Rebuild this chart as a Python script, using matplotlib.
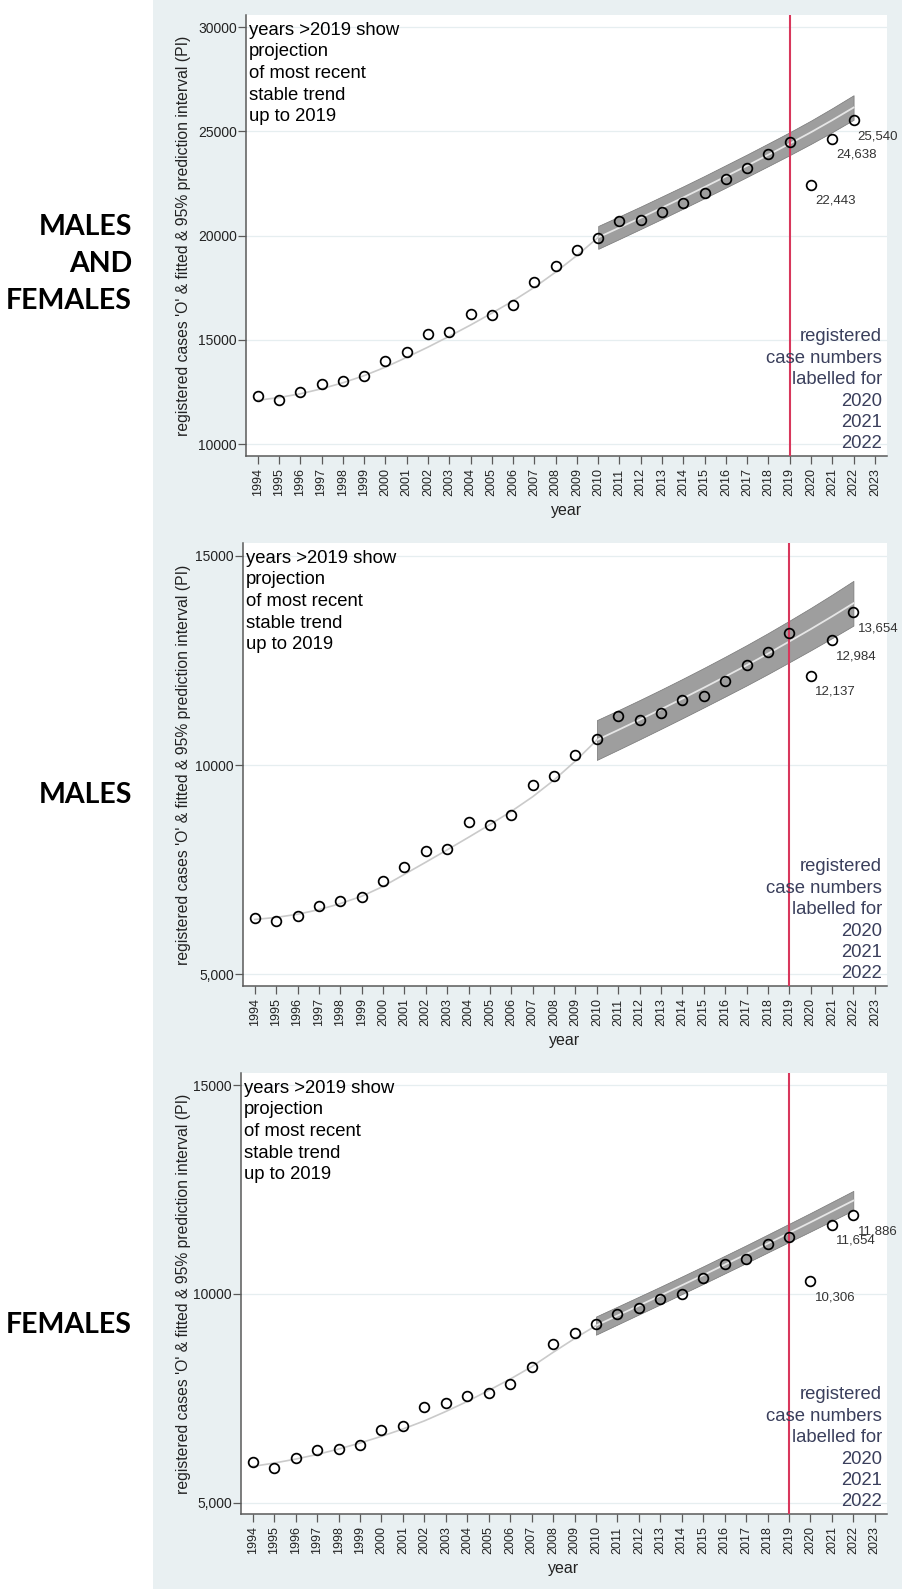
import numpy as np
import matplotlib
matplotlib.use("Agg")
import matplotlib.pyplot as plt
from matplotlib.patches import Rectangle

plt.rcParams['font.family'] = ['Liberation Sans', 'DejaVu Sans']

# ---- data -------------------------------------------------------------
years = np.arange(1994, 2023)          # registered cases, 1994-2022
pre_years = np.arange(1994, 2011)      # fitted curve before the last stable trend
band_years = np.arange(2010, 2023)     # most recent trend + projection with 95% PI
tick_years = np.arange(1994, 2024)
labelled_years = [2020, 2021, 2022]

cases_all = [12316, 12094, 12493, 12892, 13036, 13244, 13964, 14395, 15258, 15386,
             16217, 16201, 16680, 17783, 18557, 19333, 19890, 20705, 20753, 21122,
             21587, 22048, 22737, 23249, 23903, 24493, 22443, 24638, 25540]
cases_m = [6348, 6276, 6405, 6643, 6745, 6857, 7221, 7555, 7936, 7990,
           8643, 8562, 8817, 9531, 9729, 10245, 10619, 11174, 11071, 11245,
           11562, 11643, 12007, 12388, 12705, 13150, 12137, 12984, 13654]
cases_f = [5965, 5831, 6070, 6252, 6285, 6371, 6730, 6826, 7297, 7385,
           7567, 7632, 7840, 8254, 8811, 9060, 9275, 9522, 9673, 9888,
           10007, 10390, 10725, 10845, 11196, 11363, 10306, 11654, 11886]

pre_all = [12100, 12230, 12410, 12650, 12940, 13280, 13690, 14160, 14650, 15170,
           15710, 16280, 16870, 17520, 18250, 19050, 19915]
pre_m = [6310, 6360, 6435, 6545, 6690, 6865, 7100, 7390, 7680, 7975,
         8275, 8580, 8895, 9245, 9645, 10100, 10600]
pre_f = [5870, 5950, 6045, 6155, 6285, 6430, 6590, 6765, 6960, 7185,
         7425, 7690, 7960, 8255, 8600, 8930, 9240]

fit_all = [19915, 20385, 20860, 21345, 21835, 22335, 22845, 23360, 23885, 24415,
           24965, 25545, 26150]
lo_all = [19365, 19840, 20320, 20805, 21300, 21800, 22305, 22820, 23340, 23865,
          24405, 24970, 25560]
hi_all = [20465, 20930, 21400, 21885, 22370, 22870, 23385, 23900, 24430, 24965,
          25525, 26120, 26740]

fit_m = [10600, 10840, 11085, 11335, 11590, 11850, 12115, 12385, 12665, 12955,
         13250, 13555, 13870]
lo_m = [10124, 10368, 10615, 10866, 11120, 11378, 11639, 11903, 12176, 12458,
        12743, 13035, 13335]
hi_m = [11076, 11312, 11555, 11804, 12060, 12322, 12591, 12867, 13154, 13452,
        13757, 14075, 14405]

fit_f = [9240, 9480, 9720, 9960, 10205, 10450, 10700, 10950, 11205, 11460,
         11715, 11975, 12235]
lo_f = [9022, 9265, 9507, 9748, 9994, 10239, 10488, 10737, 10990, 11242,
        11493, 11748, 12003]
hi_f = [9458, 9695, 9933, 10172, 10416, 10661, 10912, 11163, 11420, 11678,
        11937, 12202, 12467]

yticks_all = [10000, 15000, 20000, 25000, 30000]
ylabels_all = ["10000", "15000", "20000", "25000", "30000"]
yticks_sex = [5000, 10000, 15000]
ylabels_sex = ["5,000", "10000", "15000"]

group_names = ["MALES\nAND\nFEMALES", "MALES", "FEMALES"]

BG = "#E9F0F2"
W, H = 902, 1589

fig = plt.figure(figsize=(W / 100, H / 100), dpi=100)
fig.patch.set_facecolor("white")
fig.patches.append(Rectangle((153 / W, 0), 1 - 153 / W, 1, transform=fig.transFigure,
                             facecolor=BG, edgecolor="none", zorder=-10))

panels = [
    dict(box=(246, 15, 887, 456), ylim=(9425, 30590), obs=cases_all, pre=pre_all,
         fit=fit_all, lo=lo_all, hi=hi_all, yt=yticks_all, yl=ylabels_all, name_y=264),
    dict(box=(243, 543, 887, 986), ylim=(4720, 15310), obs=cases_m, pre=pre_m,
         fit=fit_m, lo=lo_m, hi=hi_m, yt=yticks_sex, yl=ylabels_sex, name_y=795),
    dict(box=(241, 1073, 887, 1514), ylim=(4730, 15290), obs=cases_f, pre=pre_f,
         fit=fit_f, lo=lo_f, hi=hi_f, yt=yticks_sex, yl=ylabels_sex, name_y=1325),
]

axis_col = "#5A5A5A"

for p, name in zip(panels, group_names):
    left, top, right, bottom = p["box"]
    ax = fig.add_axes([left / W, 1 - bottom / H, (right - left) / W, (bottom - top) / H])
    ax.set_facecolor("white")

    # prediction band and fitted trend
    ax.fill_between(band_years, p["lo"], p["hi"], facecolor="#9E9E9E",
                    edgecolor="#777777", lw=0.5, zorder=2)
    ax.plot(band_years, p["fit"], color="#E6E6E6", lw=1.3, zorder=3)
    ax.plot(pre_years, p["pre"], color="#CACACA", lw=1.2, zorder=3)
    ax.axvline(2019, color="#D8375C", lw=1.5, zorder=4)

    ax.plot(years, p["obs"], "o", ms=7, mfc="none", mec="black", mew=1.25, zorder=5)
    for yr in labelled_years:
        v = p["obs"][list(years).index(yr)]
        ax.annotate(f"{v:,}", (yr, v), xytext=(3, -11.5), textcoords="offset points",
                    ha="left", va="center", fontsize=9.5, color="#333333", zorder=6)

    ax.set_xlim(1993.45, 2023.57)
    ax.set_ylim(*p["ylim"])
    ax.set_xticks(tick_years)
    ax.set_xticklabels([str(t) for t in tick_years], rotation=90, fontsize=9)
    ax.set_yticks(p["yt"])
    ax.set_yticklabels(p["yl"], fontsize=10)
    ax.yaxis.grid(True, color="#E6EEF0", lw=0.9)
    ax.set_axisbelow(True)

    for s in ("top", "right"):
        ax.spines[s].set_visible(False)
    for s in ("left", "bottom"):
        ax.spines[s].set_color(axis_col)
        ax.spines[s].set_linewidth(1.1)
    ax.tick_params(axis="y", length=5.5, width=0.9, color=axis_col, pad=1,
                   labelcolor="#222222")
    ax.tick_params(axis="x", length=5.5, width=0.9, color=axis_col, pad=3.5,
                   labelcolor="#222222")

    ax.set_ylabel("registered cases 'O' & fitted & 95% prediction interval (PI)",
                  fontsize=11.3, color="#222222")
    ax.yaxis.set_label_coords((191 - left) / (right - left), 0.5)
    ax.set_xlabel("year", fontsize=11.5, color="#222222")
    ax.xaxis.set_label_coords(0.5, -0.107)

    ax.text(0.005, 0.985, "years >2019 show\nprojection\nof most recent\nstable trend\nup to 2019",
            transform=ax.transAxes, ha="left", va="top", fontsize=13.3, color="black",
            linespacing=1.36, zorder=7)
    ax.text(0.992, 0.008, "registered\ncase numbers\nlabelled for\n2020\n2021\n2022",
            transform=ax.transAxes, ha="right", va="bottom", fontsize=13.3,
            color="#3A3F5C", linespacing=1.34, multialignment="right", zorder=7)

    fig.text(132 / W, 1 - p["name_y"] / H, name, ha="right", va="center",
             multialignment="right", fontsize=20.5, fontweight="bold",
             family=["Lato", "DejaVu Sans"], color="black", linespacing=1.52)

fig.savefig("out.png", dpi=100, facecolor=fig.get_facecolor())
